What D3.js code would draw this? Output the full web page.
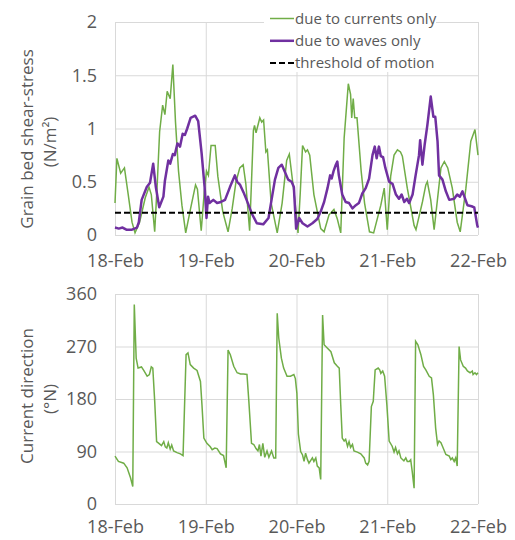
<!DOCTYPE html>
<html>
<head>
<meta charset="utf-8">
<script src="https://cdn.jsdelivr.net/npm/d3@7"></script>
<style>
    body { margin: 0; background: #fff; }
    svg, .axis { font-family: "Open Sans", sans-serif; }
    .axis text { fill: #595959; font-size: 18px; }
    .axis-title { fill: #595959; font-size: 17px; }
    .legend text { fill: #595959; font-size: 15px; }
</style>
</head>
<body>
<div id="chart"></div>
<script>
// day labels on the time axis (hours since 18-Feb 00:00)
var dayLabels = ["18-Feb", "19-Feb", "20-Feb", "21-Feb", "22-Feb"];
var dayHours = [0, 24, 48, 72, 96];

var stressTicks = [0, 0.5, 1, 1.5, 2];
var stressTickLabels = ["0", "0.5", "1", "1.5", "2"];
var directionTicks = [0, 90, 180, 270, 360];

var legendLabels = ["due to currents only", "due to waves only", "threshold of motion"];

// bed shear-stress due to currents only (N/m2)
var currentHours = [0, 0.5, 1.5, 2.5, 3.5, 4.5, 5.3, 6.5, 8, 9, 9.6, 10.5, 11.2, 11.8, 12.6, 13.2, 13.8, 14.6, 15.3, 16, 16.8, 17.7, 18.7,
    20, 21.3, 21.8, 22.8, 23.6, 24.2, 24.7, 25.4, 26.5, 27.2, 28.5, 29.9, 31, 32, 33, 33.9, 34.6, 35.6, 36.1, 36.6, 36.9, 37.3,
    38.3, 38.8, 39.3, 39.9, 40.3, 41.3, 42.9, 44.2, 45.4, 46.1, 47.5, 48.4, 49.0, 49.6, 50.4, 50.9, 51.5, 52.6, 54.4, 55.3,
    56.6, 57.9, 58.8, 59.7, 60.6, 61.7, 62.3, 62.6, 63.0, 63.4, 64.0, 65.1, 66.0, 67.3, 68.4, 70.3, 71.2, 72.0, 72.9, 73.8,
    74.7, 75.5, 76, 77.3, 79.1, 79.6, 81.3, 82.2, 82.6, 83.5, 84.4, 86.2, 87.1, 88, 89.2, 90.5, 91.3, 92.8, 94.1, 95.2, 96];
var currentStress = [0.3, 0.72, 0.58, 0.63, 0.38, 0.12, 0.02, 0.12, 0.35, 0.45, 0.38, 0.03, 0.5, 0.97, 1.22, 1.13, 1.35, 1.28, 1.6, 1.06, 0.6, 0.28, 0.02,
    0.25, 0.47, 0.43, 0.04, 0.4, 0.6, 0.56, 0.84, 0.84, 0.55, 0.22, 0.03, 0.25, 0.5, 0.63, 0.66, 0.48, 0.04, 0.5, 0.98, 1.03, 0.96,
    1.1, 1.06, 1.08, 0.78, 0.8, 0.3, 0.02, 0.3, 0.7, 0.76, 0.35, 0.02, 0.4, 0.84, 0.78, 0.8, 0.75, 0.38, 0.06, 0.03,
    0.19, 0.24, 0.15, 0.02, 0.91, 1.42, 1.32, 1.1, 1.28, 1.1, 1.1, 0.6, 0.3, 0.03, 0.02, 0.28, 0.44, 0.05, 0.55, 0.75,
    0.8, 0.78, 0.74, 0.44, 0.09, 0.05, 0.31, 0.47, 0.5, 0.33, 0.05, 0.63, 0.69, 0.63, 0.44, 0.12, 0.03, 0.44, 0.88, 0.99, 0.75];

// bed shear-stress due to waves only (N/m2)
var waveHours = [0, 1, 2, 3, 4.5, 5.8, 6.3, 7.05, 8.4, 9.26, 10.1, 10.8, 11.7, 12.8, 13.2, 14.1, 14.6, 15.3, 15.8, 16.5, 17.2, 17.9, 18.5,
    19.1, 20.0, 21.2, 22.0, 22.9, 23.7, 24.2, 24.6, 25.0, 26.0, 27, 28, 29.1, 30.4, 31.7, 32.3, 33.1, 34.0, 34.8, 36.2, 37.5,
    39.2, 40.6, 41.4, 42.3, 43.2, 44.1, 44.6, 45.8, 46.7, 47.3, 47.9, 48.7, 49.6, 50.9, 52.2, 53.5, 54.4, 55.3, 56.2, 56.9,
    57.3, 57.8, 58.4, 58.8, 59.2, 60.1, 61.0, 61.9, 62.8, 63.7, 64.5, 65.4, 66.3, 67.2, 68.1, 68.7, 69.2, 69.8, 70.3, 70.9,
    71.5, 72.5, 73.4, 74.3, 75.1, 75.8, 76.5, 77.2, 77.8, 78.7, 79.5, 80.4, 80.7, 81.3, 81.9, 82.6, 83.5, 84.2, 84.7, 85.3,
    85.7, 86.6, 87.5, 88.4, 89.7, 90.5, 91.2, 91.9, 92.4, 93.2, 94.3, 95.0, 95.8, 96];
var waveStress = [0.07, 0.06, 0.07, 0.05, 0.05, 0.07, 0.12, 0.33, 0.45, 0.49, 0.67, 0.45, 0.26, 0.36, 0.51, 0.7, 0.67, 0.76, 0.75, 0.86, 0.83, 0.95, 0.94,
    1.0, 1.1, 1.12, 1.07, 0.77, 0.45, 0.16, 0.36, 0.3, 0.33, 0.3, 0.31, 0.33, 0.45, 0.56, 0.5, 0.47, 0.4, 0.33, 0.2, 0.11,
    0.1, 0.16, 0.33, 0.52, 0.63, 0.66, 0.62, 0.52, 0.5, 0.45, 0.06, 0.16, 0.11, 0.08, 0.11, 0.15, 0.22, 0.31, 0.44, 0.56,
    0.53, 0.6, 0.66, 0.69, 0.56, 0.38, 0.31, 0.3, 0.25, 0.28, 0.3, 0.39, 0.44, 0.53, 0.75, 0.83, 0.72, 0.83, 0.74, 0.73,
    0.63, 0.5, 0.48, 0.38, 0.34, 0.38, 0.31, 0.34, 0.3, 0.38, 0.56, 0.75, 0.89, 0.66, 0.85, 1.03, 1.3, 1.11, 1.11, 0.88,
    0.56, 0.52, 0.41, 0.33, 0.34, 0.38, 0.36, 0.41, 0.36, 0.28, 0.27, 0.26, 0.09, 0.07];

var thresholdStress = 0.21;

// current direction (degrees from north)
var directionHours = [0, 0.9, 2.3, 3.2, 4.1, 4.7, 5.1, 5.6, 6.1, 7, 7.6, 8.5, 9.1, 9.6, 10, 10.5, 11, 11.6, 12.3, 12.9, 13.3, 13.7, 14.1,
    14.6, 15.0, 15.5, 16.4, 17.3, 18.0, 18.8, 19.3, 19.9, 20.8, 21.7, 22.6, 23.0, 23.5, 24.3, 25.2, 25.7, 26.4, 27.0, 27.9,
    28.7, 29.4, 29.9, 30.5, 31.4, 32.3, 33.2, 34.0, 34.9, 35.4, 36.1, 36.7, 37.3, 37.8, 38.2, 38.6, 39.1, 39.6, 40.2, 40.7,
    41.4, 42.0, 42.5, 42.9, 43.3, 44.0, 44.6, 45.5, 46.4, 47.3, 47.7, 48.1, 48.5, 49.1, 49.6, 50.0, 50.4, 50.9, 51.3, 52.2,
    52.6, 53.1, 53.5, 54.0, 54.4, 54.9, 55.3, 56.2, 57.1, 58.0, 58.8, 59.3, 59.7, 60.1, 60.6, 61.0, 61.5, 61.9, 62.3, 62.8,
    63.2, 64.1, 65.0, 65.9, 66.3, 66.8, 67.2, 67.8, 68.3, 68.8, 69.6, 70.0, 70.3, 70.8, 71.3, 71.9, 72.5, 73.3, 73.8, 74.2,
    74.7, 75.1, 75.6, 76.4, 76.9, 77.3, 77.8, 78.2, 78.6, 79.1, 79.5, 80.1, 80.9, 81.6, 82.2, 83.1, 83.7, 84.2, 84.8, 85.3,
    85.7, 86.2, 86.6, 87.5, 88.4, 88.8, 89.2, 89.7, 90.1, 90.5, 91.0, 91.4, 92.1, 92.7, 93.2, 93.9, 94.5, 94.7, 95.2, 95.6, 96];
var direction = [82, 73, 70, 62, 45, 30, 342, 250, 233, 235, 229, 219, 222, 235, 233, 176, 107, 104, 100, 107, 98, 96, 105,
    94, 101, 91, 88, 86, 83, 256, 259, 239, 233, 229, 210, 170, 113, 104, 98, 93, 96, 95, 86,
    83, 62, 264, 256, 236, 225, 223, 223, 222, 176, 104, 102, 95, 91, 102, 82, 104, 80, 91, 80,
    91, 79, 79, 327, 285, 250, 233, 219, 219, 222, 215, 190, 120, 90, 84, 73, 87, 76, 70, 79,
    73, 79, 65, 62, 42, 324, 273, 267, 261, 242, 236, 233, 170, 113, 108, 111, 99, 107, 97, 102,
    91, 89, 86, 79, 70, 67, 73, 167, 176, 230, 233, 230, 224, 228, 219, 170, 108, 99, 89, 97,
    86, 91, 79, 74, 79, 73, 73, 76, 56, 27, 279, 273, 256, 236, 230, 219, 216, 187, 130, 102,
    108, 105, 99, 85, 82, 76, 79, 73, 79, 65, 270, 247, 236, 233, 228, 225, 228, 222, 225, 222, 225];

var width = 515, height = 540;
var green = "#70ad47", purple = "#7030a0", grid = "#d9d9d9";

var svg = d3.select("#chart").append("svg")
    .attr("width", width)
    .attr("height", height);

var x = d3.scaleLinear().domain([0, 96]).range([115, 478]);
var yStress = d3.scaleLinear().domain([0, 2]).range([235, 22]);
var yDir = d3.scaleLinear().domain([0, 360]).range([504, 294]);

function pairs(hours, values) {
    return hours.map(function (h, i) { return [h, values[i]]; });
}

function drawGrid(y, yTicks) {
    var g = svg.append("g").attr("class", "grid");
    g.selectAll(".hgrid").data(yTicks).enter().append("line")
        .attr("x1", x(0)).attr("x2", x(96))
        .attr("y1", function (d) { return y(d) + 0.5; })
        .attr("y2", function (d) { return y(d) + 0.5; })
        .attr("stroke", grid);
    g.selectAll(".vgrid").data(dayHours).enter().append("line")
        .attr("x1", function (d) { return x(d) + 0.5; })
        .attr("x2", function (d) { return x(d) + 0.5; })
        .attr("y1", y.range()[1]).attr("y2", y.range()[0])
        .attr("stroke", grid);
}

function drawAxes(y, yTicks, yLabels, xPad) {
    svg.append("g")
        .attr("class", "axis")
        .attr("transform", "translate(0," + y.range()[0] + ")")
        .call(d3.axisBottom(x).tickValues(dayHours).tickSize(0).tickPadding(xPad)
            .tickFormat(function (d, i) { return dayLabels[i]; }))
        .call(function (g) { g.select(".domain").remove(); });
    svg.append("g")
        .attr("class", "axis")
        .attr("transform", "translate(" + x(0) + ",0)")
        .call(d3.axisLeft(y).tickValues(yTicks).tickSize(0).tickPadding(18)
            .tickFormat(function (d, i) { return yLabels[i]; }))
        .call(function (g) { g.select(".domain").remove(); });
    svg.selectAll(".axis").attr("font-family", null).attr("font-size", null);
}

function axisTitle(lines, cy) {
    var xs = [33, 56];
    lines.forEach(function (t, i) {
        svg.append("text")
            .attr("class", "axis-title")
            .attr("transform", "translate(" + xs[i] + "," + (cy + i * 3) + ") rotate(-90)")
            .attr("text-anchor", "middle")
            .text(t);
    });
}

// ---- top panel: shear stress
drawGrid(yStress, stressTicks);
drawAxes(yStress, stressTicks, stressTickLabels, 19);
axisTitle(["Grain bed shear-stress", "(N/m\u00b2)"], 139);

var lineStress = d3.line()
    .x(function (d) { return x(d[0]); })
    .y(function (d) { return yStress(d[1]); });

svg.append("path")
    .datum(pairs(currentHours, currentStress))
    .attr("fill", "none")
    .attr("stroke", green)
    .attr("stroke-width", 1.5)
    .attr("d", lineStress);

svg.append("path")
    .datum(pairs(waveHours, waveStress))
    .attr("fill", "none")
    .attr("stroke", purple)
    .attr("stroke-width", 2.5)
    .attr("stroke-linejoin", "round")
    .attr("d", lineStress);

svg.append("line")
    .attr("x1", x(0)).attr("x2", x(96))
    .attr("y1", yStress(thresholdStress)).attr("y2", yStress(thresholdStress))
    .attr("stroke", "#000")
    .attr("stroke-width", 2)
    .attr("stroke-dasharray", "6,3");

// legend
var legend = svg.append("g").attr("class", "legend");
legend.append("rect")
    .attr("x", 264).attr("y", 5).attr("width", 172).attr("height", 67)
    .attr("fill", "#fff");
var legendStyles = [
    { color: green, w: 1.5, dash: null },
    { color: purple, w: 2.5, dash: null },
    { color: "#000", w: 2, dash: "6,3" }
];
legendLabels.forEach(function (label, i) {
    var cy = 18.5 + i * 22.3;
    legend.append("line")
        .attr("x1", 270).attr("x2", 294)
        .attr("y1", cy).attr("y2", cy)
        .attr("stroke", legendStyles[i].color)
        .attr("stroke-width", legendStyles[i].w)
        .attr("stroke-dasharray", legendStyles[i].dash);
    legend.append("text")
        .attr("x", 295)
        .attr("y", cy + 5)
        .text(label);
});

// ---- bottom panel: current direction
drawGrid(yDir, directionTicks);
drawAxes(yDir, directionTicks, directionTicks.map(String), 16);
axisTitle(["Current direction", "(\u00b0N)"], 396);

var lineDir = d3.line()
    .x(function (d) { return x(d[0]); })
    .y(function (d) { return yDir(d[1]); });

svg.append("path")
    .datum(pairs(directionHours, direction))
    .attr("fill", "none")
    .attr("stroke", green)
    .attr("stroke-width", 1.5)
    .attr("d", lineDir);
</script>
</body>
</html>
